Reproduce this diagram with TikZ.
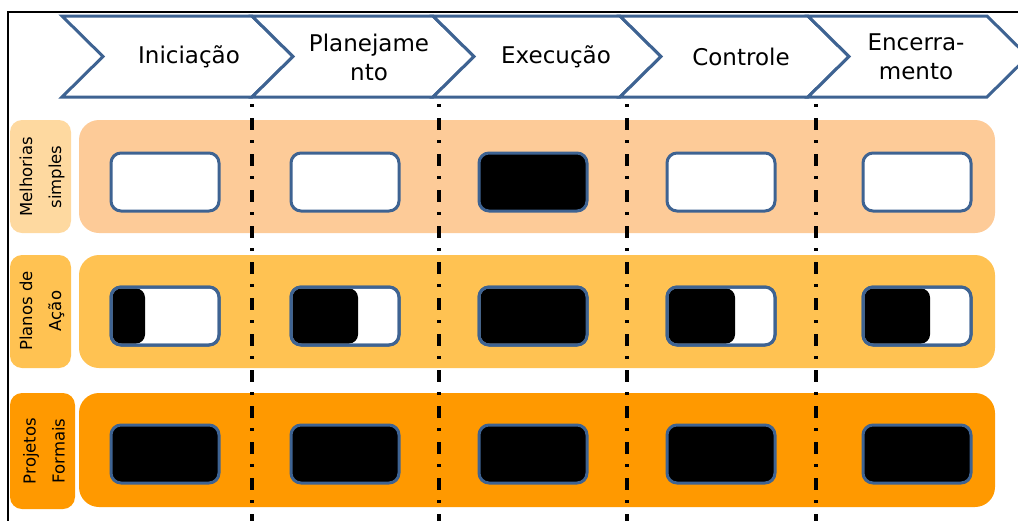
\documentclass[tikz,border=0pt]{standalone}
\usepackage{fontspec}
\setmainfont{DejaVu Sans}
\definecolor{chevblue}{RGB}{62,99,146}
\definecolor{bandA}{RGB}{253,203,152}
\definecolor{labA}{RGB}{254,217,160}
\definecolor{bandB}{RGB}{255,194,82}
\definecolor{bandC}{RGB}{255,153,0}
\begin{document}
\begin{tikzpicture}[x=1pt,y=-1pt,
  chev/.style={draw=chevblue,line width=3pt,fill=white,line join=miter},
  chevtxt/.style={align=center,font=\fontsize{23}{29}\selectfont,inner sep=0pt},
  band/.style={rounded corners=20pt},
  labbox/.style={rounded corners=12pt},
  labtxt/.style={rotate=90,align=center,font=\fontsize{16.5}{29}\selectfont,inner sep=0pt},
  boxline/.style={draw=chevblue,line width=3pt,rounded corners=10pt},
  sep/.style={line width=3.2pt,dash pattern=on 3pt off 11pt on 11.5pt off 10.5pt}
]
\useasboundingbox (0,0) rectangle (1018,520);
\begin{scope}
\clip (0,0) rectangle (1018,520);
% frame
\draw[line width=2.5pt] (8,522) -- (8,12) -- (1020,12);
% chevrons
\foreach \L/\R in {62/252,252/433,433/620,620/808,808/987}{
  \draw[chev] (\L,16) -- (\R,16) -- (\R+41,56.5) -- (\R,97) -- (\L,97) -- (\L+41,56.5) -- cycle;
}
\node[chevtxt] (t1) at (189,57) {Iniciação};
\node[chevtxt] (t2) at (369,57) {Planejame\\nto};
\node[chevtxt] (t3) at (556,57) {Execução};
\node[chevtxt] (t4) at (741,57) {Controle};
\node[chevtxt] (t5) at (916,57) {Encerra-\\mento};
% bands
\fill[bandA,band] (79,120) rectangle (995,233);
\fill[bandB,band] (79,255) rectangle (995,368);
\fill[bandC,band] (79,393) rectangle (995,507);
% label boxes
\fill[labA,labbox] (10,120) rectangle (71,233);
\fill[bandB,labbox] (10,255) rectangle (71,368);
\fill[bandC,labbox] (10,393) rectangle (75,509);
\node[labtxt] (l1) at (42,177) {Melhorias\\simples};
\node[labtxt] (l2) at (42,311) {Planos de\\Ação};
\node[labtxt] (l3) at (44,451) {Projetos\\Formais};
% separators
\foreach \x in {252,439,627,816}{
  \draw[sep] (\x,104) -- (\x,522);
}
% boxes row 1
\foreach \x/\f in {111/white,291/white,479/black,667/white,863/white}{
  \draw[boxline,fill=\f] (\x,153) rectangle (\x+108,211);
}
% boxes row 2 (partial)
\foreach \x/\w in {111/34,291/67,479/108,667/68,863/67}{
  \draw[boxline,fill=white] (\x,287) rectangle (\x+108,345);
  \fill[black,rounded corners=9pt] (\x+1.5,288.5) rectangle (\x+\w,343.5);
  \draw[boxline] (\x,287) rectangle (\x+108,345);
}
% boxes row 3
\foreach \x in {111,291,479,667,863}{
  \draw[boxline,fill=black] (\x,425) rectangle (\x+108,483);
}
\end{scope}
\end{tikzpicture}
\end{document}
